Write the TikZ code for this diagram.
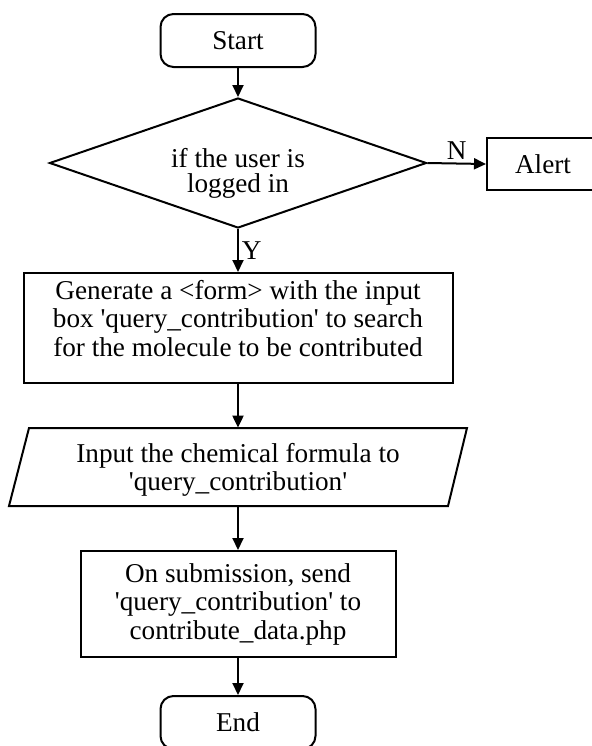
\documentclass[tikz,border=0pt]{standalone}
\usepackage{fontspec}
\setmainfont{Liberation Serif}[Ligatures=TeXOff]
\usetikzlibrary{shapes.geometric,arrows.meta}
\newcommand\lifttext[2]{\raisebox{#1}[\height][\depth]{\begin{tabular}{@{}c@{}}#2\end{tabular}}}
\begin{document}
\begin{tikzpicture}[x=0.5pt,y=-0.5pt,
  every node/.style={font=\fontsize{13.6}{14.25}\selectfont},
  base/.style={draw,line width=1pt,align=center,inner sep=0pt},
  term/.style={base,rounded corners=6.5pt,minimum width=77.5pt,minimum height=26.5pt},
  proc/.style={base,rectangle},
  decis/.style={base,diamond,shape aspect=2.9,minimum width=188.5pt,minimum height=65pt,
    font=\fontsize{13.6}{11}\selectfont},
  conn/.style={line width=1pt,-{Triangle[length=6pt,width=5.5pt]}},
  lbl/.style={inner sep=1.5pt}]
\useasboundingbox (0,0) rectangle (592,746);
\node[term] (start) at (238,40.5) {Start};
\node[decis] (dec) at (238,163) {\lifttext{-5.3pt}{if the user is\\logged in}};
\node[proc,minimum width=56pt,minimum height=26pt] (alert) at (543,164) {Alert};
\node[proc,minimum width=214.5pt,minimum height=55pt] (gen) at (238,328)
  {\lifttext{3pt}{Generate a <form> with the input\\box 'query\_contribution' to search\\for the molecule to be contributed}};
\node[inner sep=0pt,minimum width=219pt,minimum height=39pt] (inp) at (238,467)
  {\lifttext{-2pt}{Input the chemical formula to\\'query\_contribution'}};
\draw[line width=1pt,line join=miter] (29,428) -- (467,428) -- (448,506) -- (9,506) -- cycle;
\node[proc,minimum width=157.5pt,minimum height=53pt] (sub) at (238,604)
  {On submission, send\\'query\_contribution' to\\contribute\_data.php};
\node[term] (end) at (238,722.5) {End};
\draw[conn] (start.south) -- (dec.north);
\draw[conn] (dec.east) -- node[lbl,above] {N} (alert.west);
\draw[conn] (dec.south) -- node[lbl,right] {Y} (gen.north);
\draw[conn] (gen.south) -- (inp.north);
\draw[conn] (inp.south) -- (sub.north);
\draw[conn] (sub.south) -- (end.north);
\end{tikzpicture}
\end{document}
